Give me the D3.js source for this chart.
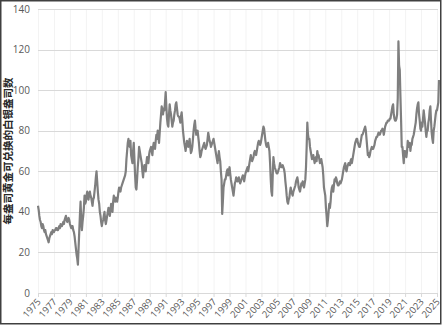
<!DOCTYPE html>
<html>
<head>
<meta charset="utf-8">
<script src="https://cdn.jsdelivr.net/npm/d3@7"></script>
<style>
  body { margin: 0; background: #fff; }
  svg { display: block; }
</style>
</head>
<body>
<div class="chart"></div>
<script>
// gold/silver ratio, monthly readings from Jan 1975
const startYear = 1975;
const ratio1970s = [
  43, 41, 38, 36, 35, 33, 32, 34, 33, 31, 30, 31,
  29, 28, 27, 26, 25, 27, 28, 29, 30, 29, 31, 30,
  30, 31, 31, 32, 32, 31, 31, 32, 33, 32, 34, 33,
  33, 34, 35, 34, 36, 37, 38, 36, 35, 36, 37, 36,
  34, 33, 32, 33, 33, 31, 30, 28, 25, 22, 19, 17
];
const ratio1980s = [
  14, 22, 30, 38, 45, 36, 31, 35, 38, 42, 48, 44,
  45, 48, 50, 47, 46, 49, 50, 48, 47, 45, 43, 46,
  47, 50, 53, 57, 60, 55, 50, 46, 44, 40, 38, 35,
  33, 35, 36, 38, 40, 36, 34, 36, 38, 40, 42, 40,
  38, 41, 44, 42, 40, 45, 48, 46, 45, 47, 46, 45,
  47, 50, 52, 51, 50, 52, 53, 54, 55, 56, 57, 58,
  60, 66, 70, 74, 76, 73, 72, 75, 68, 66, 64, 70,
  74, 66, 58, 52, 51, 56, 62, 66, 72, 70, 68, 66,
  64, 60, 57, 61, 63, 62, 60, 64, 67, 65, 64, 68,
  70, 71, 72, 70, 68, 72, 74, 72, 71, 75, 78, 76
];
const ratio1990s = [
  80, 77, 74, 79, 84, 88, 92, 90, 88, 91, 90, 94,
  99, 92, 86, 83, 82, 88, 93, 90, 88, 85, 82, 84,
  85, 88, 90, 93, 94, 91, 88, 87, 87, 86, 84, 87,
  89, 85, 80, 77, 74, 72, 70, 73, 75, 74, 72, 74,
  76, 72, 69, 70, 72, 76, 80, 83, 85, 81, 78, 79,
  80, 77, 74, 70, 67, 68, 70, 71, 72, 73, 74, 72,
  71, 72, 73, 76, 79, 77, 75, 74, 72, 73, 74, 75,
  76, 74, 72, 70, 68, 66, 64, 67, 70, 67, 65, 60,
  56, 39, 45, 52, 54, 56, 56, 58, 60, 61, 58, 59,
  62, 59, 56, 54, 52, 50, 48, 51, 54, 55, 57, 56
];
const ratio2000s = [
  55, 56, 57, 55, 54, 55, 56, 57, 58, 57, 55, 57,
  59, 60, 61, 62, 60, 62, 64, 66, 68, 66, 65, 66,
  67, 69, 70, 69, 68, 70, 72, 74, 75, 74, 73, 74,
  76, 78, 80, 82, 81, 78, 75, 73, 72, 73, 74, 72,
  70, 64, 56, 50, 48, 58, 67, 64, 62, 61, 60, 59,
  59, 60, 61, 62, 64, 63, 62, 62, 63, 62, 61, 59,
  55, 52, 48, 45, 44, 46, 47, 50, 52, 50, 49, 48,
  50, 51, 52, 53, 55, 56, 57, 55, 52, 51, 50, 52,
  54, 53, 55, 54, 52, 54, 56, 62, 72, 84, 78, 76,
  76, 72, 70, 68, 66, 67, 68, 66, 64, 66, 67, 65
];
const ratio2010s = [
  70, 68, 68, 66, 64, 65, 66, 64, 62, 58, 52, 50,
  48, 42, 38, 33, 36, 40, 44, 42, 45, 50, 52, 53,
  50, 53, 56, 55, 57, 56, 54, 53, 53, 54, 55, 54,
  55, 56, 58, 60, 62, 63, 64, 61, 60, 62, 63, 64,
  64, 63, 65, 66, 64, 66, 68, 70, 72, 74, 75, 76,
  76, 74, 73, 72, 72, 74, 76, 78, 78, 79, 80, 81,
  82, 80, 76, 72, 68, 69, 67, 68, 70, 71, 72, 71,
  71, 72, 73, 75, 76, 77, 77, 78, 79, 78, 78, 79,
  80, 80, 81, 80, 78, 80, 82, 83, 84, 84, 85, 85,
  85, 86, 86, 88, 90, 92, 93, 88, 86, 85, 85, 86
];
const ratio2020s = [
  88, 96, 124, 112, 110, 97, 85, 72, 72, 68, 64, 70,
  70, 68, 67, 70, 75, 73, 72, 74, 70, 73, 73, 76,
  77, 78, 80, 82, 84, 88, 91, 93, 94, 88, 85, 81,
  80, 84, 82, 86, 90, 87, 84, 80, 77, 80, 80, 84,
  86, 90, 92, 85, 79, 76, 74, 80, 82, 85, 88, 90,
  90, 92, 94, 105
];
const yTicks = [0, 20, 40, 60, 80, 100, 120, 140];
const xTicks = d3.range(1975, 2026, 2);
const yTitle = '每盎司黄金可兑换的白银盎司数';

const ratios = [].concat(ratio1970s, ratio1980s, ratio1990s, ratio2000s, ratio2010s, ratio2020s);
const data = ratios.map((v, i) => ({ year: startYear + i / 12, value: v }));

const width = 443;
const height = 325;
const margin = { top: 9, right: 6, bottom: 32, left: 38 };

const svg = d3.select('.chart')
  .append('svg')
  .attr('width', width)
  .attr('height', height);

const xScale = d3.scaleLinear()
  .domain([1975, 2025])
  .range([margin.left, width - margin.right]);

const yScale = d3.scaleLinear()
  .domain([0, 140])
  .range([height - margin.bottom, margin.top]);

// vertical grid (faint)
svg.append('g')
  .selectAll('line')
  .data(xTicks)
  .enter()
  .append('line')
  .attr('x1', d => xScale(d) + 0.5)
  .attr('x2', d => xScale(d) + 0.5)
  .attr('y1', yScale(140))
  .attr('y2', yScale(0))
  .attr('stroke', '#f3f3f3');

// horizontal grid
svg.append('g')
  .selectAll('line')
  .data(yTicks)
  .enter()
  .append('line')
  .attr('x1', xScale(1975))
  .attr('x2', xScale(2025) + 1)
  .attr('y1', d => Math.round(yScale(d)) + 0.5)
  .attr('y2', d => Math.round(yScale(d)) + 0.5)
  .attr('stroke', '#d9d9d9');

// y tick labels
svg.append('g')
  .selectAll('text')
  .data(yTicks)
  .enter()
  .append('text')
  .attr('x', margin.left - 8)
  .attr('y', d => yScale(d))
  .attr('dy', '0.35em')
  .attr('text-anchor', 'end')
  .attr('font-family', 'Open Sans, sans-serif')
  .attr('font-size', 10)
  .attr('fill', '#595959')
  .text(d => d);

// x axis ticks + rotated labels
const xAxis = svg.append('g');
xAxis.selectAll('line')
  .data(xTicks)
  .enter()
  .append('line')
  .attr('x1', d => xScale(d) + 0.5)
  .attr('x2', d => xScale(d) + 0.5)
  .attr('y1', yScale(0))
  .attr('y2', yScale(0) + 4)
  .attr('stroke', '#d9d9d9');

xAxis.selectAll('text')
  .data(xTicks)
  .enter()
  .append('text')
  .attr('transform', d => `translate(${xScale(d) + 1},${yScale(0) + 7}) rotate(-48)`)
  .attr('text-anchor', 'end')
  .attr('dy', '0.35em')
  .attr('font-family', 'Open Sans, sans-serif')
  .attr('font-size', 9.5)
  .attr('fill', '#595959')
  .text(d => d);

// y title
svg.append('text')
  .attr('transform', `translate(12,${yScale(70)}) rotate(-90)`)
  .attr('text-anchor', 'middle')
  .attr('font-family', 'Noto Sans CJK SC, sans-serif')
  .attr('font-weight', 'bold')
  .attr('font-size', 10.5)
  .attr('fill', '#262626')
  .text(yTitle);

// ratio line
const line = d3.line()
  .x(d => xScale(d.year))
  .y(d => yScale(d.value));

svg.append('path')
  .datum(data)
  .attr('d', line)
  .attr('fill', 'none')
  .attr('stroke', '#7f7f7f')
  .attr('stroke-width', 2.2)
  .attr('stroke-linejoin', 'round');

// outer frame
svg.append('rect')
  .attr('x', 0.75)
  .attr('y', 0.75)
  .attr('width', width - 3)
  .attr('height', height - 2)
  .attr('fill', 'none')
  .attr('stroke', '#404040')
  .attr('stroke-width', 1.5);
</script>
</body>
</html>
